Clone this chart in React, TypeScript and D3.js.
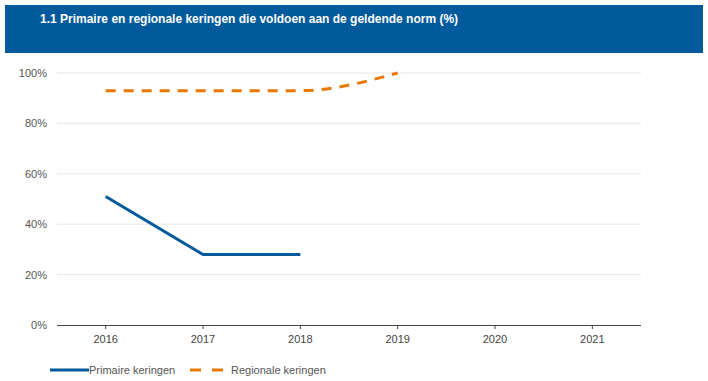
import React from "react";
import * as d3 from "d3";

const years = ["2016", "2017", "2018", "2019", "2020", "2021"];
const primaire: [string, number][] = [["2016", 51], ["2017", 28], ["2018", 28]];
const regionale: [string, number][] = [["2016", 93], ["2017", 93], ["2018", 93], ["2019", 100]];
const yTicks = [0, 20, 40, 60, 80, 100];
const title = "1.1 Primaire en regionale keringen die voldoen aan de geldende norm (%)";
const seriesNames = ["Primaire keringen", "Regionale keringen"];

const W = 708, H = 381;
const BLUE = "#015a9b";
const ORANGE = "#e87800";

export default function App() {
  const left = 57, right = 641, top = 73, bottom = 325;
  const x = d3.scalePoint<string>().domain(years).range([left, right]).padding(0.5);
  const y = d3.scaleLinear().domain([0, 100]).range([bottom, top]);
  const lineLin = d3.line<[string, number]>().x(d => x(d[0])!).y(d => y(d[1]));
  const lineMono = d3.line<[string, number]>().x(d => x(d[0])!).y(d => y(d[1])).curve(d3.curveMonotoneX);
  const font = "Arial, 'Liberation Sans', sans-serif";
  return (
    <svg width={W} height={H} style={{ position: "absolute", left: 0, top: 0 }} fontFamily={font}>
      <rect x={0} y={0} width={W} height={H} fill="#fff" />
      <rect x={5} y={5} width={698} height={48} fill={BLUE} />
      <text x={40} y={23} fill="#fff" fontSize={12} fontWeight="bold">{title}</text>
      {yTicks.map(t => (
        <g key={t}>
          {t > 0 && <line x1={left} x2={right} y1={y(t)} y2={y(t)} stroke="#e6e6e6" strokeWidth={1} />}
          <text x={47} y={y(t) + 4} textAnchor="end" fontSize={11} fill="#555">{t}%</text>
        </g>
      ))}
      <line x1={left} x2={right} y1={bottom + 0.5} y2={bottom + 0.5} stroke="#444" strokeWidth={1} />
      {years.map(yr => (
        <g key={yr}>
          <line x1={x(yr)! } x2={x(yr)!} y1={bottom} y2={bottom + 4} stroke="#444" />
          <text x={x(yr)!} y={bottom + 18} textAnchor="middle" fontSize={11} fill="#444">{yr}</text>
        </g>
      ))}
      <path d={lineLin(primaire)!} fill="none" stroke={BLUE} strokeWidth={3} />
      <path d={lineMono(regionale)!} fill="none" stroke={ORANGE} strokeWidth={3} strokeDasharray="10,8" />
      <line x1={50} x2={89} y1={370} y2={370} stroke={BLUE} strokeWidth={3} />
      <text x={89} y={374} fontSize={11} fill="#555">{seriesNames[0]}</text>
      <line x1={190} x2={223} y1={370} y2={370} stroke={ORANGE} strokeWidth={3} strokeDasharray="11,11" />
      <text x={231} y={374} fontSize={11} fill="#555">{seriesNames[1]}</text>
    </svg>
  );
}
